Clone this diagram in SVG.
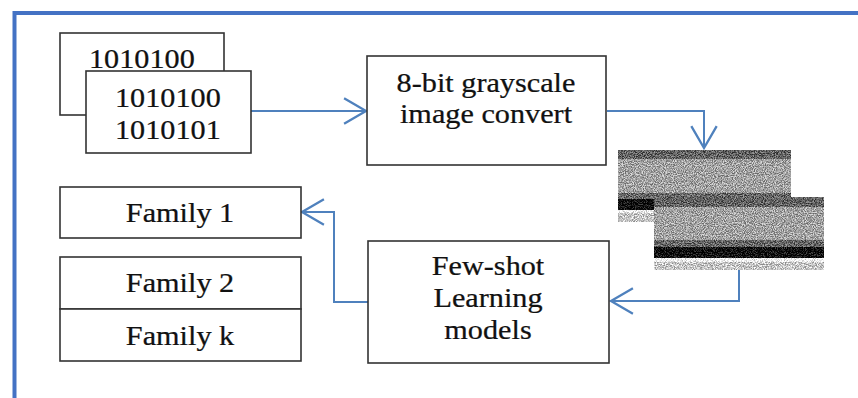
<svg xmlns="http://www.w3.org/2000/svg" width="858" height="398" viewBox="0 0 858 398">
  <style>
    .box { fill: #fff; stroke: #333; stroke-width: 1.6; }
    .lbl { font-family: "Liberation Serif", "Times New Roman", serif; font-size: 27px; fill: #111; stroke: #111; stroke-width: 0.25; }
    .mid { text-anchor: middle; }
    .wire { fill: none; stroke: #4f81bd; stroke-width: 2; }
    .frame { fill: none; stroke: #4472c4; stroke-width: 4; }
  </style>
  <defs>
    <marker id="chevron" markerUnits="userSpaceOnUse" markerWidth="30" markerHeight="30" viewBox="-22 -13 24 26" refX="0" refY="0" orient="auto">
      <path d="M-19,-11 L0,0 L-19,11" fill="none" stroke="#4f81bd" stroke-width="2"/>
    </marker>
    <!-- grainy grayscale texture for the rendered byte images -->
    <filter id="grain" x="0" y="0" width="100%" height="100%" color-interpolation-filters="sRGB">
      <feTurbulence type="fractalNoise" baseFrequency="0.9" numOctaves="2" seed="7" result="n"/>
      <feColorMatrix in="n" type="matrix" values="1 0 0 0 0  1 0 0 0 0  1 0 0 0 0  0 0 0 0 1" result="g"/>
      <feComponentTransfer in="g" result="gc">
        <feFuncR type="linear" slope="2.6" intercept="-0.8"/>
        <feFuncG type="linear" slope="2.6" intercept="-0.8"/>
        <feFuncB type="linear" slope="2.6" intercept="-0.8"/>
      </feComponentTransfer>
      <feComposite in="SourceGraphic" in2="gc" operator="arithmetic" k1="0" k2="1" k3="0.45" k4="-0.225"/>
    </filter>
  </defs>

  <!-- outer frame: top and left edges -->
  <g id="frame">
    <path class="frame" d="M14.5,398 L14.5,13 L858,13"/>
  </g>

  <!-- connectors -->
  <g id="connectors">
    <path class="wire" d="M251,111 L366,111" marker-end="url(#chevron)"/>
    <path class="wire" d="M607,111 L704,111 L704,148" marker-end="url(#chevron)"/>
    <path class="wire" d="M739,270 L739,301 L611,301" marker-end="url(#chevron)"/>
    <path class="wire" d="M368,302 L334,302 L334,212 L302,212" marker-end="url(#chevron)"/>
  </g>

  <!-- binary input files -->
  <g id="binary-back">
    <rect class="box" x="60" y="33" width="164" height="82"/>
    <text class="lbl" transform="translate(89,68) scale(1.12,1)">1010100</text>
  </g>
  <g id="binary-front">
    <rect class="box" x="86" y="71" width="165" height="82"/>
    <text class="lbl" transform="translate(115,107) scale(1.12,1)">1010100</text>
    <text class="lbl" transform="translate(115,139) scale(1.12,1)">1010101</text>
  </g>

  <!-- conversion step -->
  <g id="convert">
    <rect class="box" x="367" y="56" width="239" height="109"/>
    <text class="lbl mid" transform="translate(486,92) scale(1.12,1)">8-bit grayscale</text>
    <text class="lbl mid" transform="translate(486,123) scale(1.12,1)">image convert</text>
  </g>

  <!-- grayscale images -->
  <g id="image-back" filter="url(#grain)">
    <rect x="618" y="150" width="173" height="72" fill="#a2a2a2"/>
    <rect x="618" y="150" width="173" height="9" fill="#626262"/>
    <rect x="618" y="193" width="173" height="6" fill="#666"/>
    <rect x="618" y="199" width="173" height="11" fill="#0d0d0d"/>
    <rect x="618" y="210" width="173" height="3" fill="#f4f4f4"/>
    <rect x="618" y="213" width="173" height="9" fill="#c4c4c4"/>
  </g>
  <g id="image-front" filter="url(#grain)">
    <rect x="654" y="197" width="170" height="73" fill="#a2a2a2"/>
    <rect x="654" y="197" width="170" height="10" fill="#626262"/>
    <rect x="654" y="240" width="170" height="7" fill="#666"/>
    <rect x="654" y="247" width="170" height="11" fill="#0d0d0d"/>
    <rect x="654" y="258" width="170" height="4" fill="#f4f4f4"/>
    <rect x="654" y="262" width="170" height="8" fill="#c4c4c4"/>
  </g>

  <!-- learning model -->
  <g id="few-shot">
    <rect class="box" x="368" y="241" width="241" height="122"/>
    <text class="lbl mid" transform="translate(488,275) scale(1.12,1)">Few-shot</text>
    <text class="lbl mid" transform="translate(488,307) scale(1.12,1)">Learning</text>
    <text class="lbl mid" transform="translate(488,339) scale(1.12,1)">models</text>
  </g>

  <!-- output families -->
  <g id="family-1">
    <rect class="box" x="60" y="187" width="241" height="51"/>
    <text class="lbl mid" transform="translate(180,222) scale(1.12,1)">Family 1</text>
  </g>
  <g id="family-2">
    <rect class="box" x="60" y="257" width="241" height="52"/>
    <text class="lbl mid" transform="translate(180,292) scale(1.12,1)">Family 2</text>
  </g>
  <g id="family-k">
    <rect class="box" x="60" y="309" width="241" height="52"/>
    <text class="lbl mid" transform="translate(180,345) scale(1.12,1)">Family k</text>
  </g>
</svg>
